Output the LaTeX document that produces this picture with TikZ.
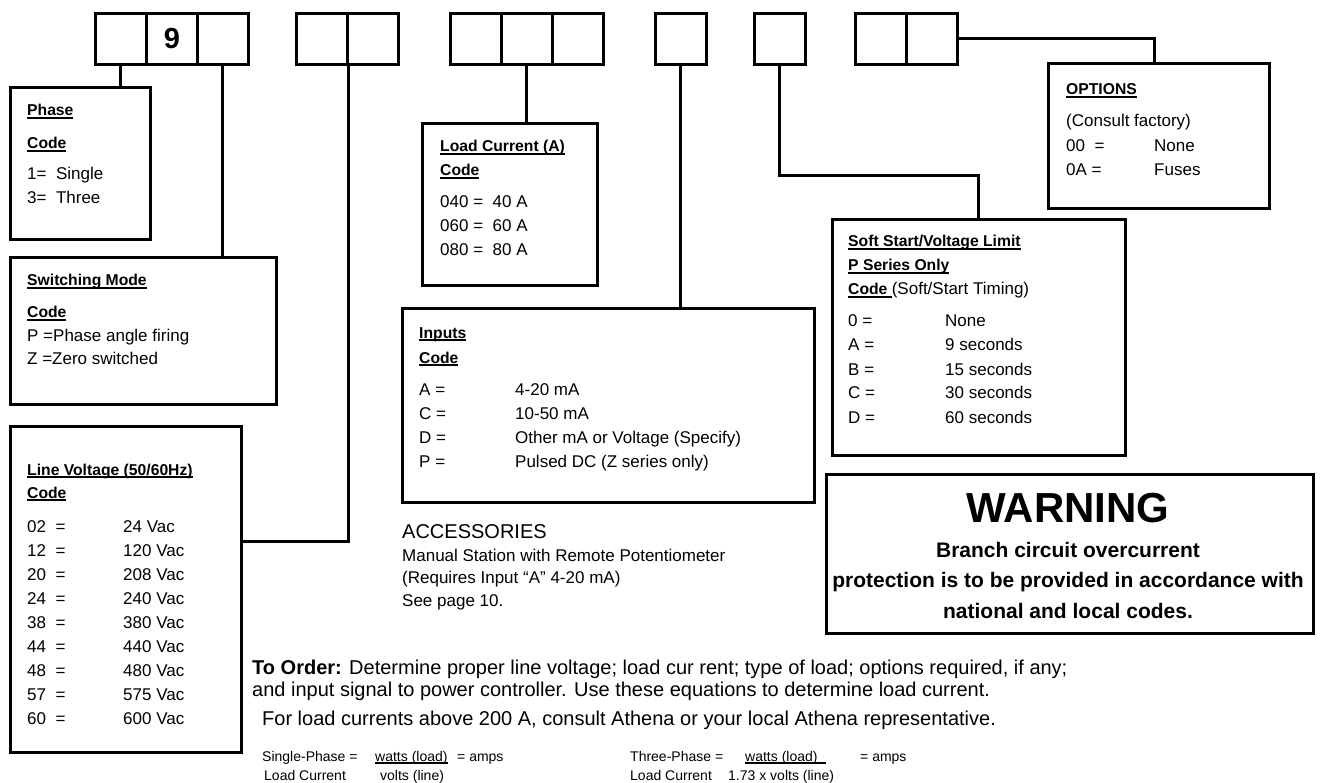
\documentclass[tikz,border=0pt]{standalone}
\usepackage{fontspec}
\setmainfont{Liberation Sans}
\newcommand\rf{\fontsize{17}{24}\selectfont}
\newcommand\bh{\fontsize{15.7}{24}\selectfont\bfseries}
\newcommand\ef{\fontsize{14}{16}\selectfont}
\newcommand\of{\fontsize{20}{24}\selectfont}
\newcommand\hul[1]{\setbox0\hbox{#1}\rlap{\rule[-2.6pt]{\wd0}{1.6pt}}\box0}
\tikzset{
  box/.style={draw, line width=2.8pt, inner sep=0pt, anchor=north west},
  cell/.style={draw, line width=2.8pt, minimum width=51pt, minimum height=51pt, inner sep=0pt, anchor=north west},
  conn/.style={line width=3pt},
  txt/.style={anchor=base west, inner sep=0pt, font=\rf},
  hd/.style={anchor=base west, inner sep=0pt, font=\bh},
  etxt/.style={anchor=base west, inner sep=0pt, font=\ef},
  otxt/.style={anchor=base west, inner sep=0pt, font=\of},
  wtxt/.style={anchor=base, inner sep=0pt, font=\fontsize{21}{24}\selectfont\bfseries},
}
\begin{document}
\begin{tikzpicture}[x=1pt,y=-1pt]
\useasboundingbox (0,0) rectangle (1322,783);
% top code cells
\node[cell] (g1a) at (94,12) {};
\node[cell] (g1b) at (145,12) {};
\node[cell] (g1c) at (196,12) {};
\node[cell] (g2a) at (295,12) {};
\node[cell] (g2b) at (346,12) {};
\node[cell] (g3a) at (449,12) {};
\node[cell] (g3b) at (500,12) {};
\node[cell] (g3c) at (551,12) {};
\node[cell] (g4a) at (654,12) {};
\node[cell] (g5a) at (753,12) {};
\node[cell] (g6a) at (854,12) {};
\node[cell] (g6b) at (905,12) {};
\node[inner sep=0pt, font=\fontsize{29}{30}\selectfont\bfseries] (nine) at (g1b.center) {9};
% boxes
\node[box, minimum width=140pt, minimum height=152pt] (phase) at (9,86) {};
\node[box, minimum width=266pt, minimum height=147pt] (sw) at (9,256) {};
\node[box, minimum width=231pt, minimum height=326pt] (lv) at (9,425) {};
\node[box, minimum width=175pt, minimum height=162pt] (load) at (421,122) {};
\node[box, minimum width=412pt, minimum height=194pt] (inp) at (401,307) {};
\node[box, minimum width=293pt, minimum height=236pt] (soft) at (831,218) {};
\node[box, minimum width=221pt, minimum height=145pt] (opt) at (1047,62) {};
\node[box, minimum width=487pt, minimum height=159pt] (warn) at (825,473) {};
% connectors
\draw[conn] (g1a.south) -- (g1a.south |- phase.north);
\draw[conn] (g1c.south) -- (g1c.south |- sw.north);
\draw[conn] (g2a.south east) |- ([yshift=-116pt]lv.north east);
\draw[conn] (g3b.south) -- (g3b.south |- load.north);
\draw[conn] (g4a.south) -- (g4a.south |- inp.north);
\draw[conn] (g5a.south) |- ([yshift=42pt]soft.north) -- (soft.north);
\draw[conn] (g6b.east) -| ([xshift=-4pt]opt.north);
% phase
\node[hd] (ph1) at (27,116) {\hul{Phase}};
\node[hd] (ph2) at (27,149) {\hul{Code}};
\node[txt] (ph3) at (27,180) {1=\ \ Single};
\node[txt] (ph4) at (27,204) {3=\ \ Three};
% switching
\node[hd] (sw1) at (27,286) {\hul{Switching Mode}};
\node[hd] (sw2) at (27,318) {\hul{Code}};
\node[txt] (sw3) at (27,342) {P =Phase angle firing};
\node[txt] (sw4) at (27,365) {Z =Zero switched};
% line voltage
\node[hd] (lv1) at (27,475) {\hul{Line Voltage (50/60Hz)}};
\node[hd] (lv2) at (27,498) {\hul{Code}};
\foreach \c/\v [count=\i from 0] in {02/24,12/120,20/208,24/240,38/380,44/440,48/480,57/575,60/600}{
  \node[txt] (lvc\i) at (27,532+24*\i) {\c\ \ =};
  \node[txt] (lvv\i) at (123,532+24*\i) {\v\ Vac};
}
% load current
\node[hd] (ld1) at (440,152) {\hul{Load Current (A)}};
\node[hd] (ld2) at (440,176) {\hul{Code}};
\node[txt] (ld3) at (440,208) {040 =\ \ 40 A};
\node[txt] (ld4) at (440,232) {060 =\ \ 60 A};
\node[txt] (ld5) at (440,256) {080 =\ \ 80 A};
% inputs
\node[hd] (in1) at (419,338) {\hul{Inputs}};
\node[hd] (in2) at (419,363) {\hul{Code}};
\node[txt] (in3) at (419,395) {A =};
\node[txt] (in4) at (515,395) {4-20 mA};
\node[txt] (in5) at (419,419) {C =};
\node[txt] (in6) at (515,419) {10-50 mA};
\node[txt] (in7) at (419,443) {D =};
\node[txt] (in8) at (515,443) {Other mA or Voltage (Specify)};
\node[txt] (in9) at (419,467) {P =};
\node[txt] (in10) at (515,467) {Pulsed DC (Z series only)};
% accessories
\node[anchor=base west, inner sep=0pt, font=\fontsize{20}{22}\selectfont] (ac1) at (402,538) {ACCESSORIES};
\node[txt] (ac2) at (402,561) {Manual Station with Remote Potentiometer};
\node[txt] (ac3) at (402,583) {(Requires Input “A” 4-20 mA)};
\node[txt] (ac4) at (402,606) {See page 10.};
% soft start
\node[hd] (ss1) at (848,247) {\hul{Soft Start/Voltage Limit}};
\node[hd] (ss2) at (848,271) {\hul{P Series Only}};
\node[txt] (ss3) at (848,295) {\hul{\bh Code }(Soft/Start Timing)};
\foreach \c/\v [count=\i from 0] in {0/None,A/9 seconds,B/15 seconds,C/30 seconds,D/60 seconds}{
  \node[txt] (ssc\i) at (848,327+24*\i) {\c\ =};
  \node[txt] (ssv\i) at (945,327+24*\i) {\v};
}
% options
\node[hd] (op1) at (1066,95) {\hul{OPTIONS}};
\node[txt] (op2) at (1066,127) {(Consult factory)};
\node[txt] (op3) at (1066,152) {00\ \ =};
\node[txt] (op4) at (1154,152) {None};
\node[txt] (op5) at (1066,176) {0A =};
\node[txt] (op6) at (1154,176) {Fuses};
% warning
\node[anchor=base, inner sep=0pt, font=\fontsize{42}{44}\selectfont\bfseries] (w1) at (1068,522) {WARNING};
\node[wtxt] (w2) at (1068,557) {Branch circuit overcurrent};
\node[wtxt] (w3) at (1068,587) {protection is to be provided in accordance with};
\node[wtxt] (w4) at (1068,618) {national and local codes.};
% ordering text
\node[otxt] (o1) at (252,674) {\textbf{To Order:} Determine proper line voltage; load cur rent; type of load; options required, if any;};
\node[otxt] (o2) at (252,696) {and input signal to power controller. Use these equations to determine load current.};
\node[otxt] (o3) at (262,725) {For load currents above 200 A, consult Athena or your local Athena representative.};
\node[etxt] (e1) at (262,761) {Single-Phase =};
\node[etxt] (e2) at (375,761) {\hul{watts (load)}};
\node[etxt] (e3) at (457,761) {= amps};
\node[etxt] (e4) at (264,780) {Load Current};
\node[etxt] (e5) at (380,780) {volts (line)};
\node[etxt] (e6) at (630,761) {Three-Phase =};
\node[etxt] (e7) at (745,761) {\hul{watts (load)\hspace{8pt}}};
\node[etxt] (e8) at (860,761) {= amps};
\node[etxt] (e9) at (630,780) {Load Current};
\node[etxt] (e10) at (728,780) {1.73 x volts (line)};
\end{tikzpicture}
\end{document}
